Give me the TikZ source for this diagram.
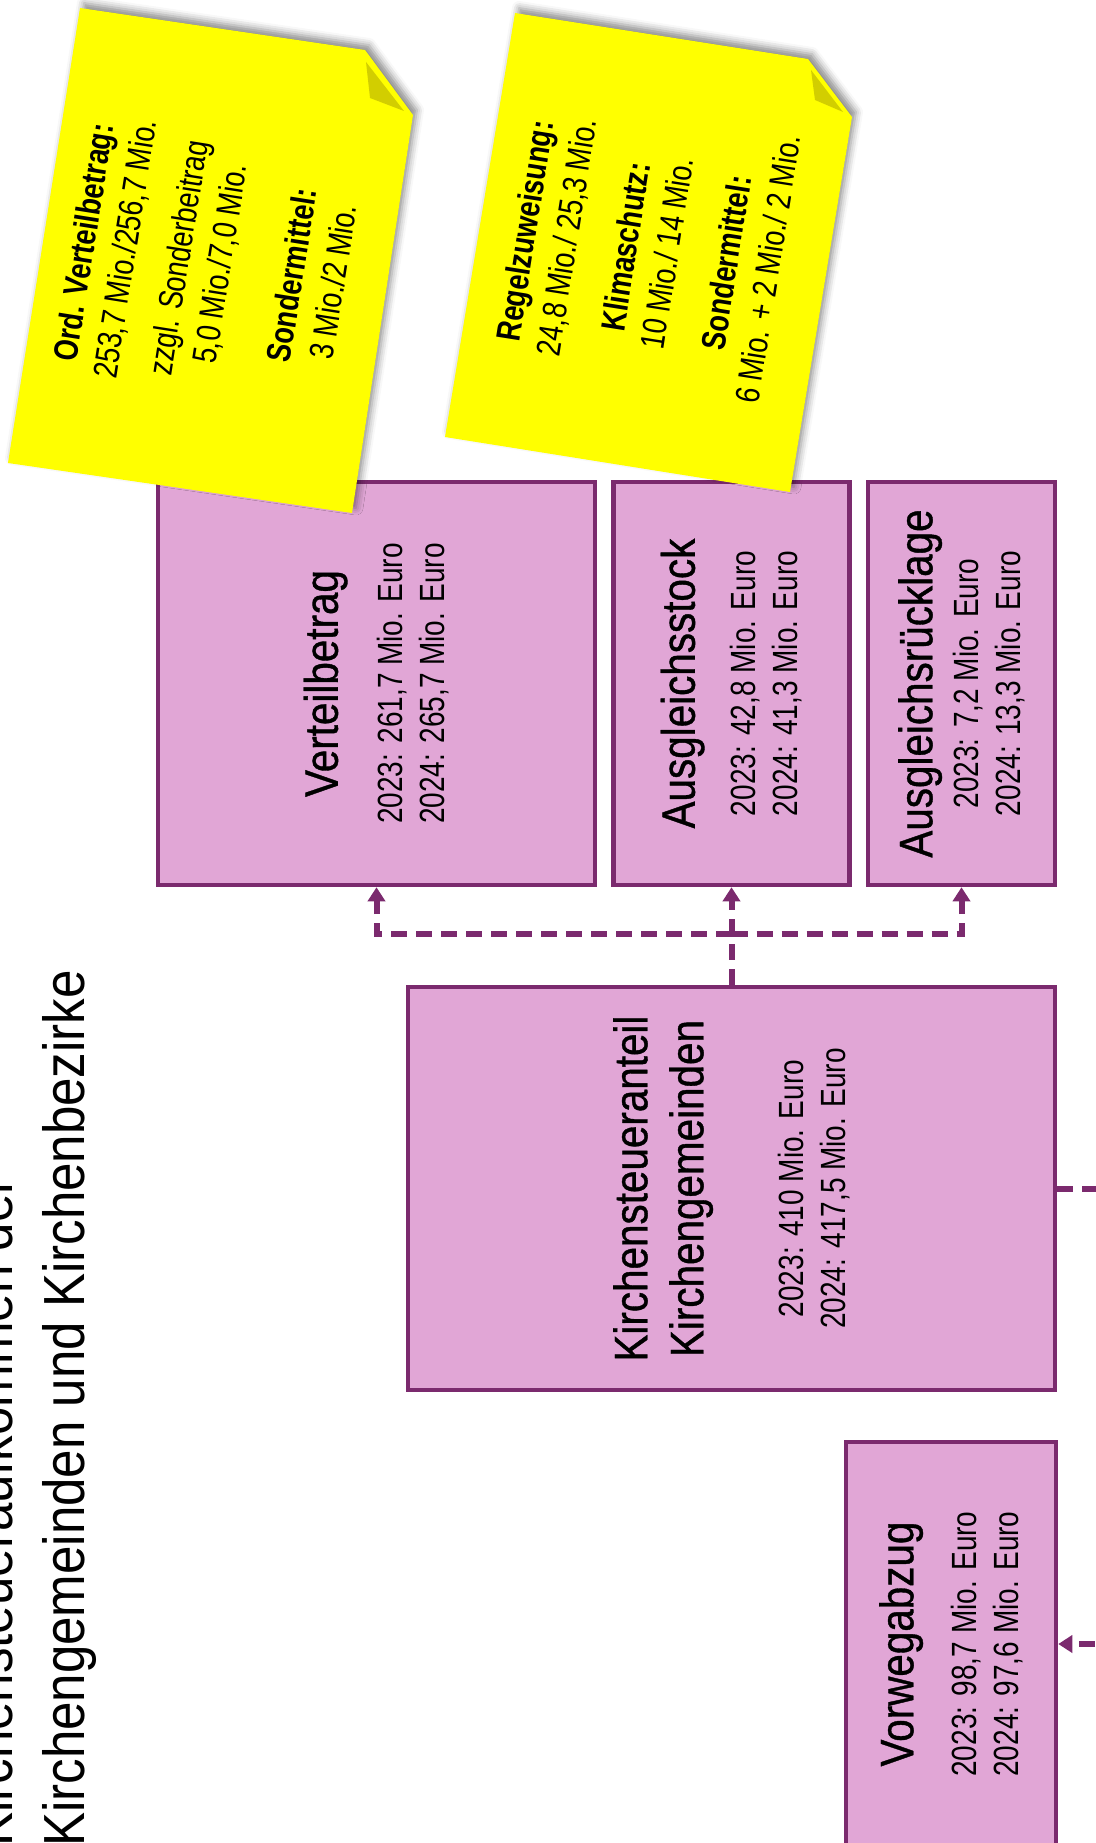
\documentclass[tikz,border=0pt]{standalone}
\usepackage{fontspec}
\setmainfont{Liberation Sans}
\newfontfamily\boxfont{Liberation Sans}[FakeStretch=0.8]
\newfontfamily\headfont{Liberation Sans}[FakeStretch=0.88]
\newfontfamily\boxheadfont{Liberation Sans}[FakeStretch=0.86,FakeBold=0.8]
\newfontfamily\notefont{Liberation Sans}[FakeStretch=0.8]
\usepackage{tikz}
\usetikzlibrary{arrows.meta,shadows.blur}
\definecolor{boxfill}{HTML}{E1A6D6}
\definecolor{boxline}{HTML}{7B2A6E}
\definecolor{notefill}{HTML}{FFFF00}
\definecolor{notefold}{HTML}{D2CE00}
\newcommand{\boxhead}[1]{{\boxheadfont\fontsize{47}{47}\selectfont #1}}

\begin{document}
\begin{tikzpicture}[
  x=1pt, y=-1pt,
  box/.style={draw=boxline, line width=4.5pt, fill=boxfill, rotate=90, inner sep=0pt, align=center, font=\boxfont\fontsize{35}{42}\selectfont},
  flowline/.style={draw=boxline, line width=6pt, dash pattern=on 16pt off 9pt},
  flow/.style={flowline, -{Triangle[length=14pt,width=17pt]}},
  note/.style={fill=notefill, blur shadow={shadow xshift=4pt, shadow yshift=5pt, shadow blur radius=7pt, shadow opacity=45}},
  notetext/.style={rotate=81, align=center, inner sep=0pt, font=\notefont\fontsize{34}{42}\selectfont},
]
  \useasboundingbox (0,0) rectangle (1095,1843);
  \node[box, minimum width=403pt, minimum height=437pt] (vert) at (376.5,683.5) {\boxhead{Verteilbetrag}\\[23pt] 2023: 261,7 Mio. Euro\\ 2024: 265,7 Mio. Euro};
  \node[box, minimum width=403pt, minimum height=236pt] (ausst) at (731.5,683.5) {\boxhead{Ausgleichsstock}\\[19pt] 2023: 42,8 Mio. Euro\\ 2024: 41,3 Mio. Euro};
  \node[box, minimum width=403pt, minimum height=187pt] (ausruck) at (961.5,683.5) {\boxhead{Ausgleichsrücklage}\\[4pt] 2023: 7,2 Mio. Euro\\ 2024: 13,3 Mio. Euro};
  \node[box, minimum width=403pt, minimum height=647pt] (kst) at (731.5,1188.5) {\boxhead{Kirchensteueranteil}\\[14pt] \boxhead{Kirchengemeinden}\\[58pt] 2023: 410 Mio. Euro\\ 2024: 417,5 Mio. Euro};
  \node[box, minimum width=404pt, minimum height=210pt] (vorweg) at (951,1644) {\boxhead{Vorwegabzug}\\[21pt] 2023: 98,7 Mio. Euro\\ 2024: 97,6 Mio. Euro};
  % Verteilung des Anteils
  \coordinate (split) at (731.5,934);
  \draw[flow] (kst.east) -- (ausst.west);
  \draw[flow] (split) -| (vert.west);
  \draw[flow] (split) -| (ausruck.west);
  \coordinate (kstout) at (1120,1188.5);
  \draw[flowline] (kst.south) -- (kstout);
  \coordinate (vorin) at (1120,1644);
  \draw[flow] (vorin) -- (vorweg.south);
  % Notizzettel
  \fill[note] (80,8) -- (365,50) -- (413,115) -- (352,513) -- (8,463) -- cycle;
  \fill[notefold] (366,62) -- (404,111) -- (370,98) -- cycle;
  \node[notetext] (note1) at (208,262) {\textbf{Ord. Verteilbetrag:}\\ 253,7 Mio./256,7 Mio.\\[12pt] zzgl. Sonderbeitrag\\ 5,0 Mio./7,0 Mio.\\[31pt] \textbf{Sondermittel:}\\ 3 Mio./2 Mio.};
  \fill[note] (515,13) -- (808,59) -- (852,117) -- (790,492) -- (445,437) -- cycle;
  \fill[notefold] (811,70) -- (843,112) -- (815,100) -- cycle;
  \node[notetext] (note2) at (646,250) {\textbf{Regelzuweisung:}\\ 24,8 Mio./ 25,3 Mio.\\[18pt] \textbf{Klimaschutz:}\\ 10 Mio./ 14 Mio.\\[18pt] \textbf{Sondermittel:}\\ 6 Mio. + 2 Mio./ 2 Mio.};
  \node[rotate=90, anchor=south west, align=left, inner sep=0pt, font=\headfont\fontsize{58}{72}\selectfont] (title) at (97,1847) {Kirchensteueraufkommen der\\Kirchengemeinden und Kirchenbezirke};
\end{tikzpicture}
\end{document}
